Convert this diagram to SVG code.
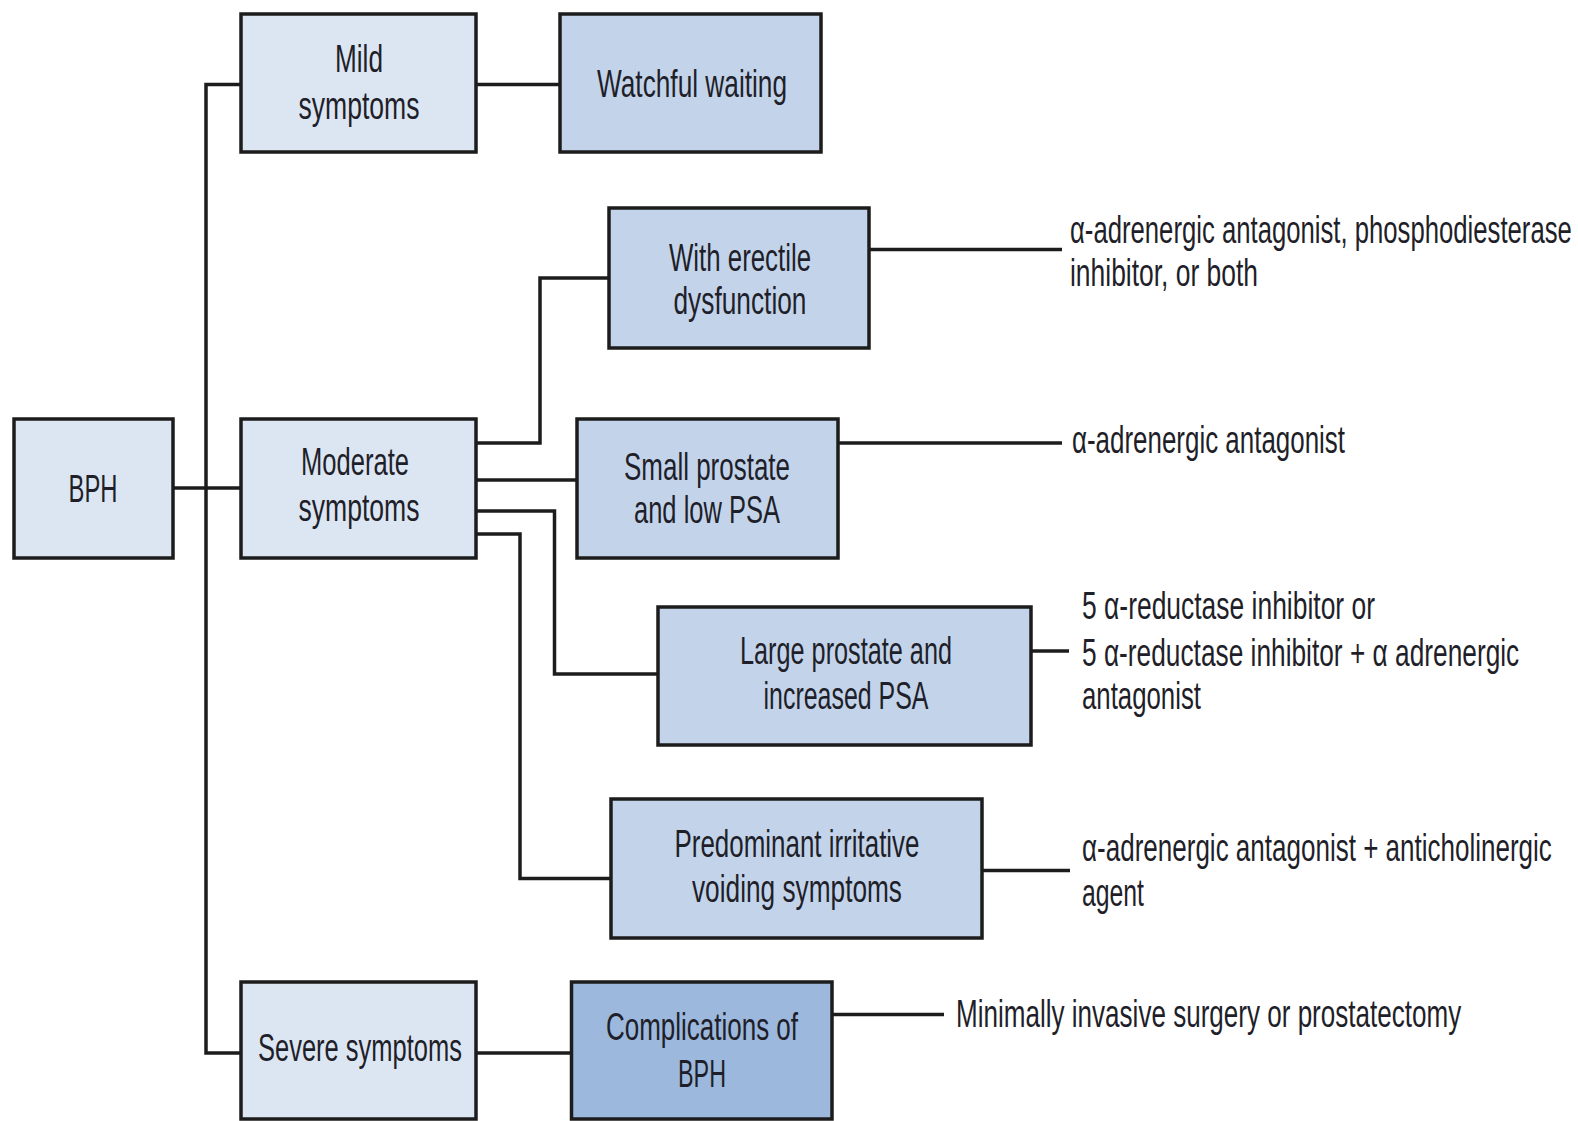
<svg xmlns="http://www.w3.org/2000/svg" width="1578" height="1121" viewBox="0 0 1578 1121">
<style>
.box{stroke:#1c1c1c;stroke-width:3.5}
.l1{fill:#dce6f2}
.l2{fill:#c3d4ea}
.l3{fill:#9cb8dc}
text{font-family:"Liberation Sans",Arial,sans-serif;font-size:38px;fill:#1f1f2a}
.c{text-anchor:middle}
.cn{fill:none;stroke:#1c1c1c;stroke-width:3.5}
</style>
<rect width="1578" height="1121" fill="#ffffff"/>
<g id="connectors">
<path class="cn" d="M241,84.5 H206 V1053 H241"/>
<path class="cn" d="M173,488 H241"/>
<path class="cn" d="M476,84.5 H560"/>
<path class="cn" d="M476,443 H540 V278 H609"/>
<path class="cn" d="M476,480 H577"/>
<path class="cn" d="M476,511 H554.5 V674 H658"/>
<path class="cn" d="M476,534 H520 V878.5 H611"/>
<path class="cn" d="M476,1053 H571.5"/>
<path class="cn" d="M869,249.5 H1062"/>
<path class="cn" d="M838,443 H1062"/>
<path class="cn" d="M1031,651 H1069"/>
<path class="cn" d="M982,870.5 H1070"/>
<path class="cn" d="M832,1014.5 H944"/>
</g>
<g id="bph">
<rect class="box l1" x="14" y="419" width="159" height="139"/>
<text class="c" x="93" y="502" textLength="49" lengthAdjust="spacingAndGlyphs">BPH</text>
</g>
<g id="mild">
<rect class="box l1" x="241" y="14" width="235" height="138"/>
<text class="c" x="359" y="72" textLength="48" lengthAdjust="spacingAndGlyphs">Mild</text>
<text class="c" x="359" y="119" textLength="121" lengthAdjust="spacingAndGlyphs">symptoms</text>
</g>
<g id="watchful">
<rect class="box l2" x="560" y="14" width="261" height="138"/>
<text class="c" x="692" y="97" textLength="190" lengthAdjust="spacingAndGlyphs">Watchful waiting</text>
</g>
<g id="erectile">
<rect class="box l2" x="609" y="208" width="260" height="140"/>
<text class="c" x="740" y="271" textLength="142" lengthAdjust="spacingAndGlyphs">With erectile</text>
<text class="c" x="740" y="314" textLength="133" lengthAdjust="spacingAndGlyphs">dysfunction</text>
</g>
<g id="moderate">
<rect class="box l1" x="241" y="419" width="235" height="139"/>
<text class="c" x="355" y="475" textLength="108" lengthAdjust="spacingAndGlyphs">Moderate</text>
<text class="c" x="359" y="521" textLength="121" lengthAdjust="spacingAndGlyphs">symptoms</text>
</g>
<g id="small">
<rect class="box l2" x="577" y="419" width="261" height="139"/>
<text class="c" x="707" y="480" textLength="166" lengthAdjust="spacingAndGlyphs">Small prostate</text>
<text class="c" x="707" y="523" textLength="146" lengthAdjust="spacingAndGlyphs">and low PSA</text>
</g>
<g id="large">
<rect class="box l2" x="658" y="607" width="373" height="138"/>
<text class="c" x="846" y="664" textLength="212" lengthAdjust="spacingAndGlyphs">Large prostate and</text>
<text class="c" x="846" y="709" textLength="165" lengthAdjust="spacingAndGlyphs">increased PSA</text>
</g>
<g id="irritative">
<rect class="box l2" x="611" y="799" width="371" height="139"/>
<text class="c" x="797" y="857" textLength="245" lengthAdjust="spacingAndGlyphs">Predominant irritative</text>
<text class="c" x="797" y="902" textLength="210" lengthAdjust="spacingAndGlyphs">voiding symptoms</text>
</g>
<g id="severe">
<rect class="box l1" x="241" y="982" width="235" height="137"/>
<text class="c" x="360" y="1061" textLength="204" lengthAdjust="spacingAndGlyphs">Severe symptoms</text>
</g>
<g id="complications">
<rect class="box l3" x="571.5" y="982" width="260.5" height="137"/>
<text class="c" x="702" y="1040" textLength="192" lengthAdjust="spacingAndGlyphs">Complications of</text>
<text class="c" x="702" y="1087" textLength="48" lengthAdjust="spacingAndGlyphs">BPH</text>
</g>
<g id="labels">
<g transform="matrix(0.68,0,0,1,1070,0)"><text x="0" y="243" textLength="738" lengthAdjust="spacingAndGlyphs">α-adrenergic antagonist, phosphodiesterase</text></g>
<text x="1070" y="286" textLength="188" lengthAdjust="spacingAndGlyphs">inhibitor, or both</text>
<text x="1072" y="453" textLength="273" lengthAdjust="spacingAndGlyphs">α-adrenergic antagonist</text>
<text x="1082" y="619" textLength="293" lengthAdjust="spacingAndGlyphs">5 α-reductase inhibitor or</text>
<g transform="matrix(0.68,0,0,1,1082,0)"><text x="0" y="666" textLength="643" lengthAdjust="spacingAndGlyphs">5 α-reductase inhibitor + α adrenergic</text></g>
<text x="1082" y="709" textLength="119" lengthAdjust="spacingAndGlyphs">antagonist</text>
<g transform="matrix(0.68,0,0,1,1082,0)"><text x="0" y="861" textLength="691" lengthAdjust="spacingAndGlyphs">α-adrenergic antagonist + anticholinergic</text></g>
<text x="1082" y="906" textLength="62" lengthAdjust="spacingAndGlyphs">agent</text>
<g transform="matrix(0.68,0,0,1,956,0)"><text x="0" y="1027" textLength="743" lengthAdjust="spacingAndGlyphs">Minimally invasive surgery or prostatectomy</text></g>
</g>
</svg>
